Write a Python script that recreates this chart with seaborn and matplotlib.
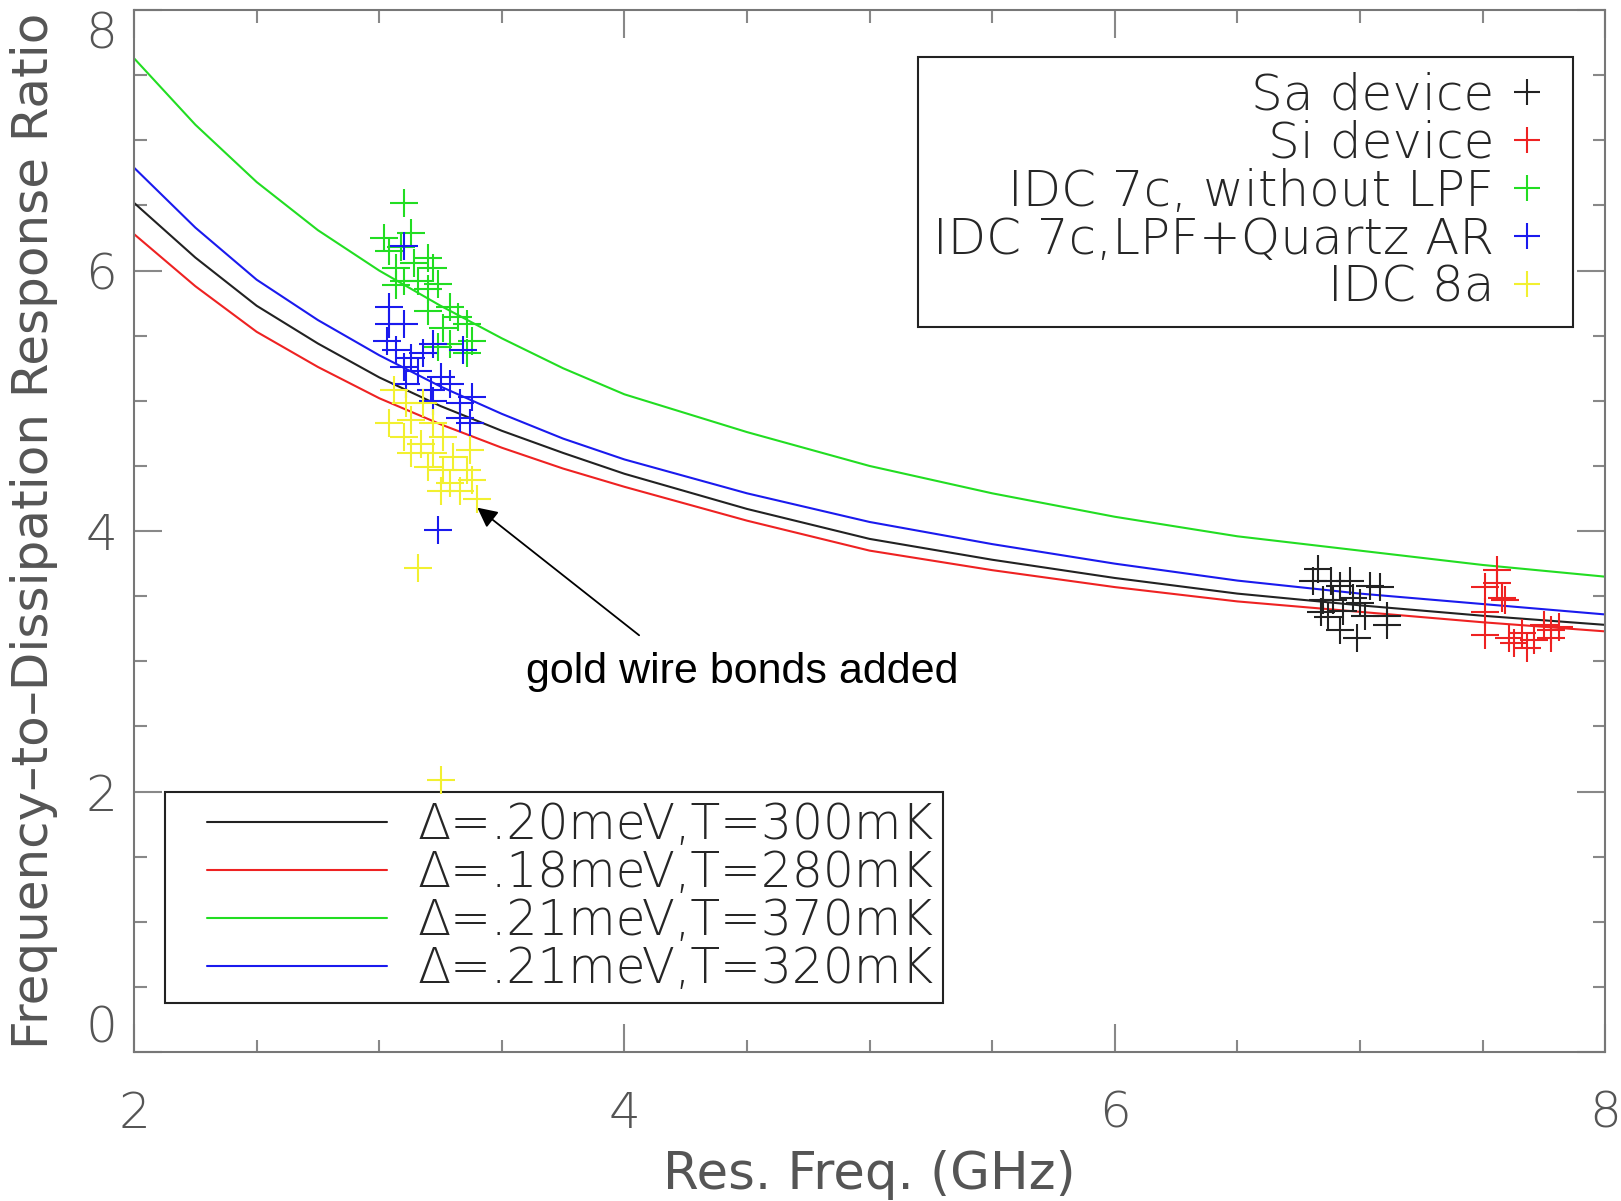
import numpy as np
import matplotlib
matplotlib.use('Agg')
import matplotlib.pyplot as plt
from matplotlib.lines import Line2D
from matplotlib.legend_handler import HandlerLine2D
from matplotlib.ticker import MultipleLocator
import pandas as pd
import seaborn as sns

# model curves (GHz -> ratio)
freq = [2.0, 2.25, 2.5, 2.75, 3.0, 3.25, 3.5, 3.75, 4.0, 4.5, 5.0, 5.5, 6.0,
        6.5, 7.0, 7.5, 8.0]
fit_300 = [6.52, 6.10, 5.73, 5.44, 5.18, 4.96, 4.77, 4.60, 4.44, 4.17, 3.94, 3.78,
           3.64, 3.52, 3.43, 3.35, 3.28]
fit_280 = [6.28, 5.88, 5.53, 5.26, 5.02, 4.82, 4.64, 4.48, 4.34, 4.08, 3.85, 3.70,
           3.57, 3.46, 3.38, 3.30, 3.23]
fit_370 = [7.63, 7.12, 6.68, 6.31, 6.00, 5.73, 5.48, 5.25, 5.05, 4.76, 4.50, 4.29,
           4.11, 3.96, 3.85, 3.74, 3.65]
fit_320 = [6.79, 6.33, 5.93, 5.62, 5.35, 5.11, 4.90, 4.71, 4.55, 4.29, 4.07, 3.90,
           3.75, 3.62, 3.52, 3.44, 3.36]
fit_labels = ['Δ=.20meV,T=300mK', 'Δ=.18meV,T=280mK',
              'Δ=.21meV,T=370mK', 'Δ=.21meV,T=320mK']

# measured resonators
sa_f = [6.83, 6.81, 6.88, 6.96, 7.04, 7.08, 6.92, 6.85, 6.89, 6.97, 7.00, 6.84,
        6.93, 7.02, 7.11, 7.11, 6.92, 6.99, 6.87]
sa_r = [3.71, 3.62, 3.62, 3.62, 3.58, 3.57, 3.58, 3.47, 3.47, 3.49, 3.45, 3.38,
        3.39, 3.35, 3.35, 3.28, 3.24, 3.18, 3.34]
si_f = [7.56, 7.51, 7.56, 7.58, 7.59, 7.51, 7.51, 7.66, 7.63, 7.68, 7.75, 7.78,
        7.78, 7.81, 7.71, 7.61]
si_r = [3.70, 3.57, 3.60, 3.49, 3.47, 3.38, 3.20, 3.22, 3.14, 3.10, 3.28, 3.24,
        3.18, 3.26, 3.16, 3.18]
g_f = [3.10, 3.02, 3.13, 3.04, 3.09, 3.20, 3.07, 3.14, 3.22, 3.10, 3.16, 3.24,
       3.20, 3.07, 3.29, 3.20, 3.32, 3.36, 3.26, 3.38, 3.29, 3.36, 3.24]
g_r = [6.52, 6.25, 6.29, 6.15, 6.18, 6.10, 6.02, 6.06, 6.02, 5.92, 5.92, 5.90,
       5.86, 5.89, 5.72, 5.69, 5.64, 5.59, 5.56, 5.46, 5.44, 5.37, 5.41]
b_f = [3.10, 3.04, 3.04, 3.10, 3.03, 3.07, 3.13, 3.18, 3.22, 3.10, 3.16, 3.25,
       3.21, 3.29, 3.22, 3.33, 3.38, 3.33, 3.37, 3.11, 3.34, 3.24]
b_r = [6.19, 5.72, 5.59, 5.59, 5.46, 5.39, 5.33, 5.37, 5.44, 5.26, 5.23, 5.18,
       5.08, 5.13, 5.00, 4.98, 5.03, 4.87, 4.83, 5.13, 5.39, 4.01]
y_f = [3.06, 3.11, 3.18, 3.04, 3.13, 3.22, 3.10, 3.17, 3.26, 3.13, 3.22, 3.30,
       3.37, 3.20, 3.26, 3.36, 3.29, 3.38, 3.33, 3.40, 3.25, 3.16, 3.25]
y_r = [5.08, 4.98, 4.98, 4.83, 4.85, 4.83, 4.72, 4.67, 4.72, 4.60, 4.60, 4.57,
       4.62, 4.49, 4.47, 4.47, 4.37, 4.39, 4.31, 4.25, 4.31, 3.72, 2.09]
dev_labels = ['Sa device', 'Si device', 'IDC 7c, without LPF',
              'IDC 7c,LPF+Quartz AR', 'IDC 8a']


class PadLine(HandlerLine2D):
  # leave some blank room in front of the legend line
  def create_artists(self, *args, **kw):
    arts = super().create_artists(*args, **kw)
    xd = arts[0].get_xdata()
    yd = arts[0].get_ydata()
    arts[0].set_data([xd[0] + 23, xd[-1]], [yd[0], yd[-1]])
    return arts


sns.set_style("ticks")
plt.rcParams['font.family'] = ['DejaVu Sans']
plt.rcParams['font.weight'] = 'light'

BLACK, RED, GREEN, BLUE, YELLOW = '#222222', '#ee2222', '#22dd22', '#1a1aee', '#f2f030'
GREY = '#555555'

fig = plt.figure(figsize=(16.21, 12.01), dpi=100)
ax = fig.add_axes([0.0827, 0.124, 0.9075, 0.8676])

curves = pd.DataFrame({'f': freq, 'a': fit_300, 'b': fit_280, 'c': fit_370, 'd': fit_320})
for col, c in zip(['a', 'b', 'c', 'd'], [BLACK, RED, GREEN, BLUE]):
  sns.lineplot(data=curves, x='f', y=col, color=c, lw=1.5, ax=ax)

for fx, ry, c in [(g_f, g_r, GREEN), (b_f, b_r, BLUE), (y_f, y_r, YELLOW),
                  (sa_f, sa_r, BLACK), (si_f, si_r, RED)]:
  sns.scatterplot(x=fx, y=ry, marker='+', s=380, color=c, linewidth=1.5, ax=ax, zorder=6)

ax.set_xlim(2, 8)
ax.set_ylim(0, 8)
ax.xaxis.set_major_locator(MultipleLocator(2))
ax.xaxis.set_minor_locator(MultipleLocator(0.5))
ax.yaxis.set_major_locator(MultipleLocator(2))
ax.yaxis.set_minor_locator(MultipleLocator(0.5))
ax.tick_params(which='both', direction='in', top=True, right=True, color='#888888', width=1.5)
ax.tick_params(which='major', length=20, labelsize=36, labelcolor=GREY)
ax.tick_params(which='minor', length=9)
ax.tick_params(axis='x', pad=27)
ax.tick_params(axis='y', pad=12)
for s in ax.spines.values():
  s.set_color('#777777')
  s.set_linewidth(1.5)

ax.set_xlabel('Res. Freq. (GHz)', fontsize=37, color=GREY)
ax.set_ylabel('Frequency–to–Dissipation Response Ratio', fontsize=36, color=GREY)
ax.xaxis.set_label_coords(0.5, -0.094)
ax.yaxis.set_label_coords(-0.052, 0.5)

line_h = [Line2D([], [], color=c, lw=1.5) for c in [BLACK, RED, GREEN, BLUE]]
leg1 = ax.legend(line_h, fit_labels, loc='lower left', bbox_to_anchor=(0.021, 0.047),
                 borderaxespad=0, fontsize=35, handlelength=4.36, handletextpad=0.63,
                 borderpad=0.2, labelspacing=0.0, fancybox=False, framealpha=1,
                 edgecolor='#222222', handler_map={Line2D: PadLine()})
leg1.get_frame().set_linewidth(1.5)
ax.add_artist(leg1)

mark_h = [Line2D([], [], color=c, marker='+', ls='none', markersize=19, mew=1.5)
          for c in [BLACK, RED, GREEN, BLUE, YELLOW]]
leg2 = ax.legend(mark_h, dev_labels, loc='upper right', bbox_to_anchor=(0.978, 0.955),
                 borderaxespad=0, fontsize=36, markerfirst=False, handlelength=1.22,
                 handletextpad=0.05, borderpad=0.3, labelspacing=0.0, fancybox=False,
                 framealpha=1, edgecolor='#222222')
leg2.get_frame().set_linewidth(1.5)

ax.annotate('', xy=(3.40, 4.18), xytext=(4.06, 3.20),
            arrowprops=dict(arrowstyle='-|>', color='black', lw=1.3,
                            shrinkA=0, shrinkB=0, mutation_scale=30))
ax.text(4.48, 2.92, 'gold wire bonds added', fontsize=31, family='Liberation Sans',
        weight='normal', color='black', ha='center', va='center')

# end labels of the y axis sit inside the frame, like the original
fig.canvas.draw()
for t in ax.yaxis.get_major_ticks():
  if abs(t.get_loc()) < 1e-9:
    t.label1.set_va('bottom')
  elif abs(t.get_loc() - 8) < 1e-9:
    t.label1.set_va('top')

plt.savefig('out.png', dpi=100)
